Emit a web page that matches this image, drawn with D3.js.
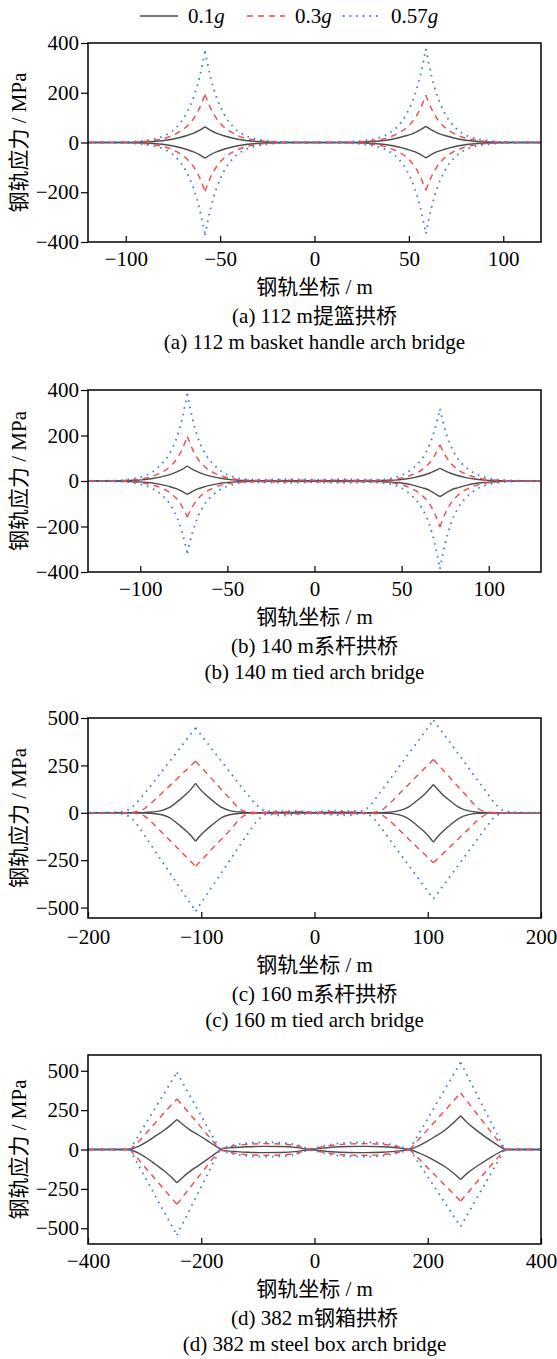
<!DOCTYPE html>
<html>
<head>
<meta charset="utf-8">
<script src="https://cdn.jsdelivr.net/npm/d3@7"></script>
<style>
body { margin: 0; background: #fff; }
svg text { font-family: "Liberation Serif", "Times New Roman", "Noto Sans CJK SC", serif; font-size: 21px; fill: #000; }
</style>
</head>
<body>
<svg id="chart" width="557" height="1359"></svg>
<script>
// legend labels
var seriesNames = ["0.1", "0.3", "0.57"];

// (a) 112 m basket handle arch bridge
var xA = [-120, -100, -91, -84, -78, -73, -68, -64, -61, -58, -55, -52, -48, -43, -38, -32, -25, -16, 0,
  17, 26, 33, 39, 44, 49, 53, 56, 59, 62, 65, 69, 74, 79, 85, 92, 101, 120];
var a01Up = [0, 0,2,5,10,17,27,38,49,63,49,38,27,17,10,5,2,0, 0, 0,2,5,10,18,28,39,51,65,51,39,28,18,10,5,2,0, 0];
var a01Lo = [0, 0,-2,-5,-10,-17,-27,-38,-49,-63,-49,-38,-27,-17,-10,-5,-2,0, 0, 0,-2,-5,-10,-17,-27,-37,-48,-62,-48,-37,-27,-17,-10,-5,-2,0, 0];
var a03Up = [0, 1,4,10,20,37,62,97,137,193,137,97,62,37,20,10,4,1, 0, 1,4,10,20,36,61,95,135,190,135,95,61,36,20,10,4,1, 0];
var a03Lo = [0, -1,-4,-10,-21,-37,-63,-98,-139,-196,-139,-98,-63,-37,-21,-10,-4,-1, 0, -1,-4,-10,-20,-36,-61,-96,-136,-192,-136,-96,-61,-36,-20,-10,-4,-1, 0];
var a057Up = [0, 2,7,16,33,62,115,184,260,367,260,184,115,62,33,16,7,2, 0, 2,8,17,34,64,118,188,267,376,267,188,118,64,34,17,8,2, 0];
var a057Lo = [0, -2,-7,-16,-33,-63,-116,-186,-264,-372,-264,-186,-116,-63,-33,-16,-7,-2, 0, -2,-7,-16,-33,-62,-114,-183,-260,-366,-260,-183,-114,-62,-33,-16,-7,-2, 0];

// (b) 140 m tied arch bridge
var xB = [-130, -115, -106, -99, -93, -88, -83, -79, -76, -73, -70, -67, -63, -58, -53, -47, -40, -31, -15, 0, 15,
  30, 39, 46, 52, 57, 62, 66, 69, 72, 75, 78, 82, 87, 92, 98, 105, 114, 130];
var b01Up = [0, 0,2,5,11,18,28,40,51,66,51,40,28,18,11,5,2,0, 1,1,1, 0,2,4,9,15,24,34,44,56,44,34,24,15,9,4,2,0, 0];
var b01Lo = [0, 0,-2,-5,-9,-16,-25,-35,-46,-59,-46,-35,-25,-16,-9,-5,-2,0, -1,-1,-1, 0,-2,-6,-11,-19,-30,-41,-54,-69,-54,-41,-30,-19,-11,-6,-2,0, 0];
var b03Up = [0, 1,4,10,21,37,63,98,139,196,139,98,63,37,21,10,4,3, 4,3,4, 3,3,8,17,30,51,80,113,159,113,80,51,30,17,8,3,1, 0];
var b03Lo = [0, -1,-3,-8,-17,-30,-51,-79,-112,-158,-112,-79,-51,-30,-17,-8,-3,-3, -4,-3,-4, -3,-4,-10,-21,-38,-65,-101,-143,-202,-143,-101,-65,-38,-21,-10,-4,-1, 0];
var b057Up = [0, 2,8,19,40,73,123,192,273,384,273,192,123,73,40,19,8,6, 8,6,8, 6,6,16,33,60,101,159,225,317,225,159,101,60,33,16,6,2, 0];
var b057Lo = [0, -2,-6,-16,-33,-60,-101,-159,-225,-317,-225,-159,-101,-60,-33,-16,-6,-6, -8,-6,-8, -6,-8,-19,-41,-73,-124,-193,-274,-386,-274,-193,-124,-73,-41,-19,-8,-2, 0];

// (c) 160 m tied arch bridge
var xC = [-200, -180, -168, -160, -152, -144, -136, -128, -120, -113, -109, -105, -101, -97, -90, -82, -74, -66, -58, -50, -42,
  -30, -15, 0, 15, 30, 42, 50, 58, 66, 74, 82, 90, 97, 101, 105, 109, 113, 120, 128, 136, 144, 152, 160, 168, 180, 200];
var c01Up = [0, 0, 0,0,1,4,10,28,64,100,125, 155, 125,100,64,28,10,4,1,1,1, 2,2,1,2,2, 1,1,1,3,10,27,62,97,121, 149, 121,97,62,27,10,3,1,0,0, 0, 0];
var c01Lo = [0, 0, 0,0,-1,-3,-9,-25,-62,-97,-121, -150, -121,-97,-62,-25,-9,-3,-1,-1,-1, -2,-2,-1,-2,-2, -1,-1,-1,-3,-10,-28,-64,-100,-125, -155, -125,-100,-64,-28,-10,-3,-1,0,0, 0, 0];
var c03Up = [0, 0, 0,3,15,52,97,142,187,227,250, 272, 246,220,175,122,70,20,3,2,3, 4,6,3,6,5, 2,2,10,47,95,143,191,233,257, 281, 255,229,183,130,78,26,4,1,0, 0, 0];
var c03Lo = [0, 0, 0,-2,-12,-48,-96,-144,-192,-234,-258, -282, -257,-232,-187,-138,-88,-32,-6,-3,-4, -6,-6,-2,-5,-6, -3,-3,-8,-40,-86,-132,-178,-218,-241, -264, -241,-218,-178,-132,-86,-40,-8,-1,0, 0, 0];
var c057Up = [0, 2, 8,35,88,147,209,270,332,386,417, 448, 417,386,332,270,209,147,88,35,8, 8,10,4,12,10, 10,45,107,172,237,302,367,424,456, 488, 456,424,367,302,237,172,107,45,10, 2, 0];
var c057Lo = [0, -2, -8,-38,-102,-173,-244,-315,-386,-448,-483, -519, -483,-448,-386,-315,-244,-173,-102,-38,-8, -14,-8,-4,-10,-14, -3,-18,-73,-138,-203,-268,-333,-390,-422, -454, -422,-390,-333,-268,-203,-138,-73,-18,-3, -1, 0];

// (d) 382 m steel box arch bridge
var xD = [-400, -350, -326, -310, -295, -280, -265, -254, -243, -232, -220, -205, -190, -176, -167,
  -150, -120, -90, -60, -30, -10, 0, 10, 30, 60, 90, 120, 150,
  168, 182, 198, 214, 230, 244, 258, 270, 284, 298, 312, 326, 336, 360, 400];
var d01Up = [0,0, 0,22,52,88,124,155, 190, 157,125,92,58,25,5, 10,17,20,19,12,2,3,7,14,19,20,17,9, 0,20,50,85,122,165, 215, 170,128,90,55,22,0, 0,0];
var d01Lo = [0,0, 0,-24,-57,-97,-137,-172, -211, -174,-139,-102,-64,-28,-5, -10,-17,-20,-19,-12,-2,-3,-7,-14,-19,-20,-17,-9, 0,-18,-44,-75,-108,-146, -190, -150,-113,-80,-48,-19,0, 0,0];
var d03Up = [0,0, 0,52,113,174,236,279, 321, 275,224,161,97,38,0, 18,32,37,35,22,4,6,14,26,35,37,32,16, 0,56,120,183,247,303, 359, 304,239,175,110,46,0, 0,0];
var d03Lo = [0,0, 0,-67,-130,-193,-256,-302, -348, -298,-243,-174,-105,-41,0, -18,-32,-37,-35,-22,-4,-6,-14,-26,-35,-37,-32,-16, 0,-51,-109,-167,-225,-276, -327, -277,-218,-159,-100,-42,0, 0,0];
var d057Up = [0,0, 0,94,183,271,359,424, 489, 418,341,245,148,58,0, 22,40,46,44,28,5,8,18,32,44,46,40,20, 0,86,184,283,381,467, 553, 468,369,269,170,71,0, 0,0];
var d057Lo = [0,0, 0,-105,-203,-302,-400,-472, -544, -465,-379,-272,-165,-64,0, -22,-40,-46,-44,-28,-5,-8,-18,-32,-44,-46,-40,-20, 0,-76,-163,-250,-337,-413, -489, -414,-326,-238,-150,-63,0, 0,0];

// axes
var xDomains = [[-120, 120], [-130, 130], [-200, 200], [-400, 400]];
var yDomains = [[-400, 400], [-400, 400], [-555, 500], [-600, 600]];
var xTicks = [[-100, -50, 0, 50, 100], [-100, -50, 0, 50, 100], [-200, -100, 0, 100, 200], [-400, -200, 0, 200, 400]];
var yTicks = [[-400, -200, 0, 200, 400], [-400, -200, 0, 200, 400], [-500, -250, 0, 250, 500], [-500, -250, 0, 250, 500]];
var cusps = [[-58, 59], [-73, 72], [-105, 105], [-326, -243, -167, 168, 258, 336]];
var captionsCn = ["(a) 112 m提篮拱桥", "(b) 140 m系杆拱桥", "(c) 160 m系杆拱桥", "(d) 382 m钢箱拱桥"];
var captionsEn = ["(a) 112 m basket handle arch bridge", "(b) 140 m tied arch bridge", "(c) 160 m tied arch bridge", "(d) 382 m steel box arch bridge"];
var xTitle = "钢轨坐标 / m";
var yTitle = "钢轨应力 / MPa";

var panelData = [
  { xs: xA, up: [a01Up, a03Up, a057Up], lo: [a01Lo, a03Lo, a057Lo] },
  { xs: xB, up: [b01Up, b03Up, b057Up], lo: [b01Lo, b03Lo, b057Lo] },
  { xs: xC, up: [c01Up, c03Up, c057Up], lo: [c01Lo, c03Lo, c057Lo] },
  { xs: xD, up: [d01Up, d03Up, d057Up], lo: [d01Lo, d03Lo, d057Lo] }
];

// layout (pixels)
var boxes = [
  { top: 43, bottom: 242, shift: 0 },
  { top: 390, bottom: 572, shift: 0 },
  { top: 718, bottom: 918, shift: 2 },
  { top: 1055, bottom: 1244, shift: 0 }
];
var left = 88, right = 541;

var styles = [
  { color: "#4d4d4d", width: 1.4, dash: null },
  { color: "#f24848", width: 1.4, dash: "6,5" },
  { color: "#3a7ddd", width: 1.8, dash: "1.6,5" }
];

var svg = d3.select("#chart");
var minus = function(d) { return d < 0 ? "\u2212" + Math.abs(d) : String(d); };

// split a curve at the cusp points so the peaks stay sharp
function pieces(xs, ys, cuts) {
  var out = [], cur = [];
  xs.forEach(function(x, i) {
    cur.push([x, ys[i]]);
    if (i > 0 && i < xs.length - 1 && cuts.indexOf(x) >= 0) {
      out.push(cur);
      cur = [[x, ys[i]]];
    }
  });
  out.push(cur);
  return out;
}

panelData.forEach(function(p, k) {
  var b = boxes[k];
  var x = d3.scaleLinear().domain(xDomains[k]).range([left, right]);
  var y = d3.scaleLinear().domain(yDomains[k]).range([b.bottom, b.top]);
  var g = svg.append("g");

  var line = d3.line()
    .x(function(d) { return x(d[0]); })
    .y(function(d) { return y(d[1]); })
    .curve(d3.curveMonotoneX);

  [0, 1, 2].forEach(function(s) {
    [p.up[s], p.lo[s]].forEach(function(ys) {
      pieces(p.xs, ys, cusps[k]).forEach(function(seg) {
        g.append("path")
          .attr("d", line(seg))
          .attr("fill", "none")
          .attr("stroke", styles[s].color)
          .attr("stroke-width", styles[s].width)
          .attr("stroke-dasharray", styles[s].dash);
      });
    });
  });

  // x axis, ticks inside
  var gx = g.append("g")
    .attr("transform", "translate(0," + b.bottom + ")")
    .call(d3.axisBottom(x).tickValues(xTicks[k]).tickSize(-6).tickSizeOuter(0).tickPadding(9 + b.shift).tickFormat(minus));
  gx.select(".domain").remove();

  // y axis, ticks outside
  var gy = g.append("g")
    .attr("transform", "translate(" + left + ",0)")
    .call(d3.axisLeft(y).tickValues(yTicks[k]).tickSize(7).tickSizeOuter(0).tickPadding(2).tickFormat(minus));
  gy.select(".domain").remove();

  g.selectAll(".tick line").attr("stroke-width", 1.2);

  g.append("rect")
    .attr("x", left).attr("y", b.top)
    .attr("width", right - left).attr("height", b.bottom - b.top)
    .attr("fill", "none").attr("stroke", "#000").attr("stroke-width", 1.5);

  var cx = (left + right) / 2;
  g.append("text").attr("x", cx).attr("y", b.bottom + 52 + b.shift).attr("text-anchor", "middle").text(xTitle);
  g.append("text").attr("x", cx).attr("y", b.bottom + 81 + b.shift).attr("text-anchor", "middle").text(captionsCn[k]);
  g.append("text").attr("x", cx).attr("y", b.bottom + 107 + b.shift).attr("text-anchor", "middle").text(captionsEn[k]);

  g.append("text")
    .attr("transform", "translate(19," + (b.top + b.bottom) / 2 + ") rotate(-90)")
    .attr("text-anchor", "middle")
    .attr("dominant-baseline", "central")
    .text(yTitle);
});

// legend
var legX = [140, 247, 343];
seriesNames.forEach(function(name, s) {
  var lg = svg.append("g").attr("transform", "translate(" + legX[s] + ",16)");
  lg.append("line")
    .attr("x1", 0).attr("x2", 38).attr("y1", 0).attr("y2", 0)
    .attr("stroke", styles[s].color)
    .attr("stroke-width", styles[s].width)
    .attr("stroke-dasharray", styles[s].dash);
  var t = lg.append("text").attr("x", 48).attr("y", 7);
  t.append("tspan").text(name);
  t.append("tspan").attr("font-style", "italic").text("g");
});
</script>
</body>
</html>
